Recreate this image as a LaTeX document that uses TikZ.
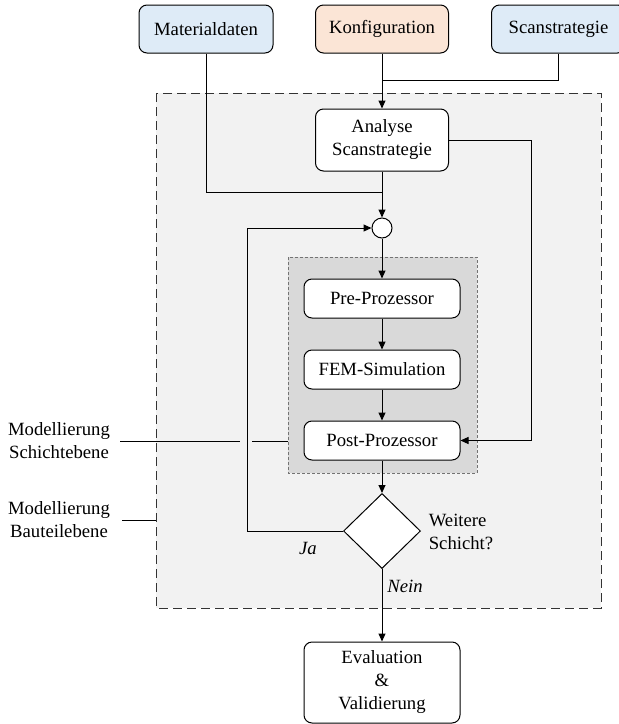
\documentclass[tikz,border=0pt]{standalone}
\usepackage{fontspec}
\setmainfont{Liberation Serif}
\usetikzlibrary{arrows.meta,shapes.geometric}
\definecolor{hellblau}{RGB}{222,235,247}
\definecolor{lachs}{RGB}{251,229,214}
\tikzset{
	box/.style={draw, rounded corners=4pt, fill=white, align=center, minimum width=78pt, minimum height=19.5pt, inner sep=1pt},
	pfeil/.style={-{Triangle[length=4pt,width=3.5pt]}},
}
\begin{document}
\begin{tikzpicture}[x=0.5pt, y=-0.5pt, line width=0.5pt, font=\rmfamily\fontsize{9.35}{11.5}\selectfont]
			\useasboundingbox (0,0) rectangle (618,724);
			\filldraw[fill=black!5, draw=black!80, dash pattern=on 4.5pt off 2.5pt] (156,93) rectangle (601,608);
			\filldraw[fill=black!15, draw=black!55, dash pattern=on 1.5pt off 1pt] (288,257) rectangle (477,473);
			\node[box, fill=hellblau, minimum width=67pt, minimum height=24pt] (mat) at (206,29) {Materialdaten};
			\node[box, fill=lachs, minimum width=66.5pt, minimum height=24pt] (konf) at (382,29) {Konfiguration};
			\node[box, fill=hellblau, minimum width=67pt, minimum height=24pt] (scan) at (558.5,29) {Scanstrategie};
			\node[box, minimum width=66.5pt, minimum height=31pt] (ana) at (382,140) {Analyse\\Scanstrategie};
			\node[draw, circle, fill=white, minimum size=10pt, inner sep=0pt] (kreis) at (382,228) {};
			\node[box] (pre) at (382,298.5) {Pre-Prozessor};
			\node[box] (fem) at (382,369.5) {FEM-Simulation};
			\node[box] (post) at (382,440.5) {Post-Prozessor};
			\node[draw, diamond, fill=white, minimum width=38.5pt, minimum height=37.5pt, inner sep=0pt] (frage) at (382,531) {};
			\node[box, minimum height=40.5pt] (eval) at (382,682.5) {Evaluation\\\&\\Validierung};
			\node[align=left] (weiter) at (461,531.5) {Weitere\\Schicht?};
			\node (ja) at (308,548) {\textit{Ja}};
			\node (nein) at (405,586) {\textit{Nein}};
			\node[align=center] (ebeneS) at (59,441) {Modellierung\\Schichtebene};
			\node[align=center] (ebeneB) at (59,520) {Modellierung\\Bauteilebene};
			\coordinate (knick) at (382,80);
			\coordinate (treff) at (382,192);
			\draw[pfeil] (konf) -- (ana);
			\draw (scan.south) |- (knick);
			\draw[pfeil] (ana) -- (kreis);
			\draw (mat.south) |- (treff);
			\draw[pfeil] (ana.east) -- ++(82,0) |- (post.east);
			\draw[pfeil] (kreis) -- (pre);
			\draw[pfeil] (pre) -- (fem);
			\draw[pfeil] (fem) -- (post);
			\draw[pfeil] (post) -- (frage);
			\draw[pfeil] (frage.west) -- (247,531) |- (kreis.west);
			\draw[pfeil] (frage) -- (eval);
			\draw (120,441) -- (240,441);
			\draw (252,441) -- (288,441);
			\draw (122,520) -- (156,520);
		\end{tikzpicture}
\end{document}
